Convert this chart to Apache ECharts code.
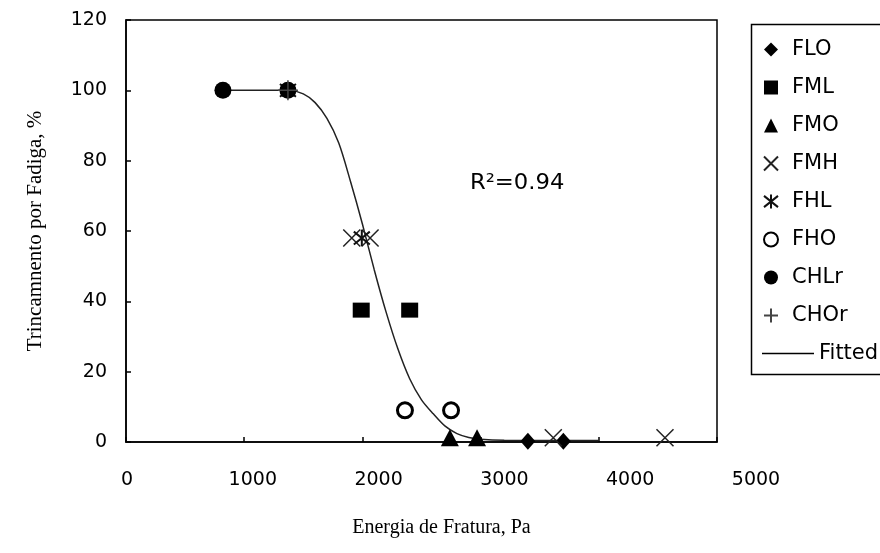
<!DOCTYPE html>
<html>
<head>
<meta charset="utf-8">
<script src="https://cdn.jsdelivr.net/npm/echarts@6/dist/echarts.min.js"></script>
<style>
  html, body { margin: 0; padding: 0; background: #fff; }
  #chart { width: 880px; height: 553px; }
</style>
</head>
<body>
<div id="chart"></div>
<script>
// Fracture energy (Pa) vs. fatigue cracking (%) per mixture
const FLO  = [[3400, 0.2], [3700, 0.2]];
const FML  = [[1990, 37.5], [2400, 37.5]];
const FMO  = [[2740, 1.2], [2970, 1.2]];
const FMH  = [[1910, 58], [2065, 58], [3615, 1.2], [4560, 1.2]];
const FHL  = [[1995, 58], [1370, 100]];
const FHO  = [[2360, 9], [2750, 9]];
const CHLr = [[820, 100], [1370, 100]];
const CHOr = [[1370, 100]];
// Fitted curve
const fitted = [
  [820, 100], [1370, 100], [1500, 99], [1600, 96.5], [1700, 92], [1800, 85],
  [1900, 74], [2000, 62], [2100, 49], [2200, 37], [2300, 26.5], [2400, 18],
  [2500, 12], [2600, 8], [2700, 4.5], [2800, 2.4], [2900, 1.3], [3000, 0.8],
  [3200, 0.5], [4000, 0.4]
];
const xTicks = { min: 0, max: 5000, interval: 1000 };
const yTicks = { min: 0, max: 120, interval: 20 };
const r2Text = 'R²=0.94';

const seriesNames = ['FLO', 'FML', 'FMO', 'FMH', 'FHL', 'FHO', 'CHLr', 'CHOr'];

const P_X = 'path://M0,0L10,10M10,0L0,10';
const P_AST = 'path://M0,1L10,9M10,1L0,9M5,0L5,10';
const P_PLUS = 'path://M5,0L5,10M0,5L10,5';

const stroke = (c, w) => ({ color: 'transparent', borderColor: c, borderWidth: w, opacity: 1 });
const solid = { color: '#000', opacity: 1 };

const chart = echarts.init(document.getElementById('chart'), null, { renderer: 'canvas' });

const sans = 'DejaVu Sans, Arial, sans-serif';
const tickFont = { fontFamily: sans, fontSize: 19, color: '#000' };
const legendFont = { fontFamily: sans, fontSize: 21, color: '#000', lineHeight: 16, padding: [0, 0, 0, 9] };
const serif = 'Liberation Serif, Times New Roman, serif';

chart.setOption({
  animation: false,
  backgroundColor: '#fff',
  grid: [
    { left: 126, right: 163, top: 20, bottom: 111, show: true, borderColor: '#000', borderWidth: 1.5, containLabel: false },
    { left: 127, right: 124, top: 20, bottom: 111, show: false, containLabel: false }
  ],
  xAxis: [
    {
      type: 'value', gridIndex: 0, ...xTicks,
      axisLine: { show: true, onZero: false, lineStyle: { color: '#000', width: 1.5 } },
      axisTick: { show: true, inside: true, length: 5, lineStyle: { color: '#000', width: 1.5 } },
      axisLabel: { show: false },
      splitLine: { show: false }
    },
    {
      type: 'value', gridIndex: 1, ...xTicks,
      name: 'Energia de Fratura, Pa', nameLocation: 'middle', nameGap: 76,
      nameTextStyle: { fontFamily: serif, fontSize: 20, color: '#000' },
      axisLine: { show: false }, axisTick: { show: false }, splitLine: { show: false },
      axisLabel: { ...tickFont, margin: 29, formatter: v => String(v) }
    }
  ],
  yAxis: [
    {
      type: 'value', gridIndex: 0, ...yTicks,
      name: 'Trincamnento por Fadiga, %', nameLocation: 'middle', nameGap: 80,
      nameTextStyle: { fontFamily: serif, fontSize: 21, color: '#000' },
      axisLine: { show: true, lineStyle: { color: '#000', width: 1.5 } },
      axisTick: { show: true, inside: true, length: 5, lineStyle: { color: '#000', width: 1.5 } },
      axisLabel: { ...tickFont, margin: 19, formatter: v => String(v) },
      splitLine: { show: false }
    },
    { type: 'value', gridIndex: 1, ...yTicks, show: false }
  ],
  legend: [
    {
      data: seriesNames, orient: 'vertical', left: 758, top: 34,
      itemWidth: 14, itemHeight: 14, itemGap: 17,
      textStyle: legendFont,
      selectedMode: false
    },
    {
      data: [{ name: 'Fitted', icon: 'rect' }], orient: 'vertical', left: 757, top: 338,
      itemWidth: 52, itemHeight: 1.6,
      itemStyle: { color: '#000' },
      textStyle: { ...legendFont, padding: 0 },
      selectedMode: false
    }
  ],
  graphic: [
    { type: 'rect', left: 749, top: 22, shape: { width: 160, height: 350 },
      style: { fill: 'none', stroke: '#000', lineWidth: 1.5 }, z: 100 },
    { type: 'text', left: 470, top: 173, scaleX: 1.08,
      style: { text: r2Text, fill: '#000', font: '21px DejaVu Sans, Arial, sans-serif' } }
  ],
  series: [
    { name: 'Fitted', type: 'line', data: fitted, smooth: 0.3, symbol: 'none', z: 1,
      lineStyle: { color: '#222', width: 1.5 }, itemStyle: { color: '#000' } },
    { name: 'FLO', type: 'scatter', data: FLO, symbol: 'diamond', symbolSize: [15, 17], z: 3, itemStyle: solid },
    { name: 'FML', type: 'scatter', data: FML, symbol: 'rect', symbolSize: [17, 15], z: 3, itemStyle: solid },
    { name: 'FMO', type: 'scatter', data: FMO, symbol: 'triangle', symbolSize: [18, 17], z: 3, itemStyle: solid },
    { name: 'FMH', type: 'scatter', data: FMH, symbol: P_X, symbolSize: 17, z: 3, itemStyle: stroke('#222', 1.5) },
    { name: 'FHL', type: 'scatter', data: FHL, symbol: P_AST, symbolSize: 16, z: 3, itemStyle: stroke('#111', 2) },
    { name: 'FHO', type: 'scatter', data: FHO, symbol: 'circle', symbolSize: 15, z: 3, itemStyle: { color: '#fff', borderColor: '#000', borderWidth: 3, opacity: 1 } },
    { name: 'CHLr', type: 'scatter', data: CHLr, symbol: 'circle', symbolSize: 17, z: 3, itemStyle: solid },
    { name: 'CHOr', type: 'scatter', data: CHOr, symbol: P_PLUS, symbolSize: 20, z: 3, itemStyle: stroke('#444', 1.5) }
  ]
});
</script>
</body>
</html>
